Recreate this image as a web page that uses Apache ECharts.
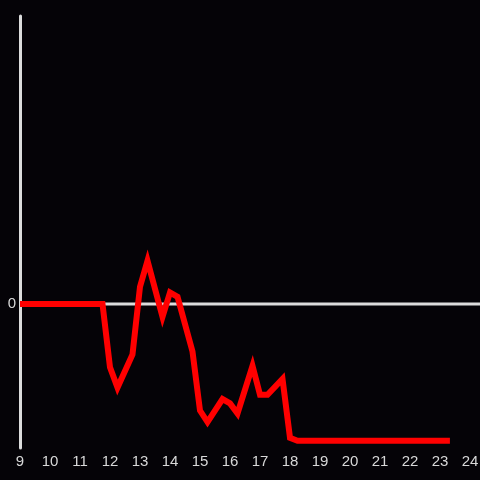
<!DOCTYPE html>
<html>
<head>
<meta charset="utf-8">
<script src="https://cdn.jsdelivr.net/npm/echarts@6/dist/echarts.min.js"></script>
<style>
  html, body { margin: 0; padding: 0; background: #050307; }
  #chart { width: 480px; height: 480px; }
</style>
</head>
<body>
<div id="chart"></div>
<script>
// hours of day and measured value
const hours = [9, 11.75, 12, 12.25, 12.75, 13, 13.25, 13.75, 14, 14.25, 14.75, 15, 15.25,
  15.75, 16, 16.25, 16.75, 17, 17.25, 17.75, 18, 18.25, 23.33]
const values = [0, 0, -0.44, -0.58, -0.35, 0.12, 0.3, -0.09, 0.08, 0.05, -0.33, -0.74, -0.82,
  -0.66, -0.69, -0.76, -0.43, -0.63, -0.63, -0.52, -0.93, -0.95, -0.95]
const xMin = 9
const xMax = 24.333

const chart = echarts.init(document.getElementById('chart'))

chart.setOption({
  backgroundColor: '#050307',
  animation: false,
  grid: { left: 20, right: 0, top: 16, bottom: 32, outerBoundsMode: 'none', containLabel: false },
  xAxis: {
    type: 'value', min: xMin, max: xMax, interval: 1,
    axisLine: { show: false },
    axisTick: { show: false },
    splitLine: { show: false },
    axisLabel: {
      color: '#d8d8d8', fontSize: 15, margin: 6,
      fontFamily: 'Liberation Sans, Arial, sans-serif',
      formatter: v => Number.isInteger(v) ? String(v) : '',
    },
  },
  yAxis: {
    type: 'value', min: -1, max: 2, interval: 1,
    axisLine: { show: true, onZero: false, lineStyle: { color: '#dcdcdc', width: 3 } },
    axisTick: { show: false },
    splitLine: { show: false },
    axisLabel: {
      color: '#d8d8d8', fontSize: 15, margin: 4,
      fontFamily: 'Liberation Sans, Arial, sans-serif',
      formatter: v => v === 0 ? '0' : '',
    },
  },
  series: [
    {
      type: 'line', z: 1, symbol: 'none', silent: true,
      data: [[xMin, 0], [xMax, 0]],
      lineStyle: { color: '#dcdcdc', width: 3 },
    },
    {
      type: 'line', z: 2, symbol: 'none',
      data: hours.map((h, i) => [h, values[i]]),
      lineStyle: { color: '#ff0000', width: 6, join: 'miter' },
    },
  ],
})
</script>
</body>
</html>
